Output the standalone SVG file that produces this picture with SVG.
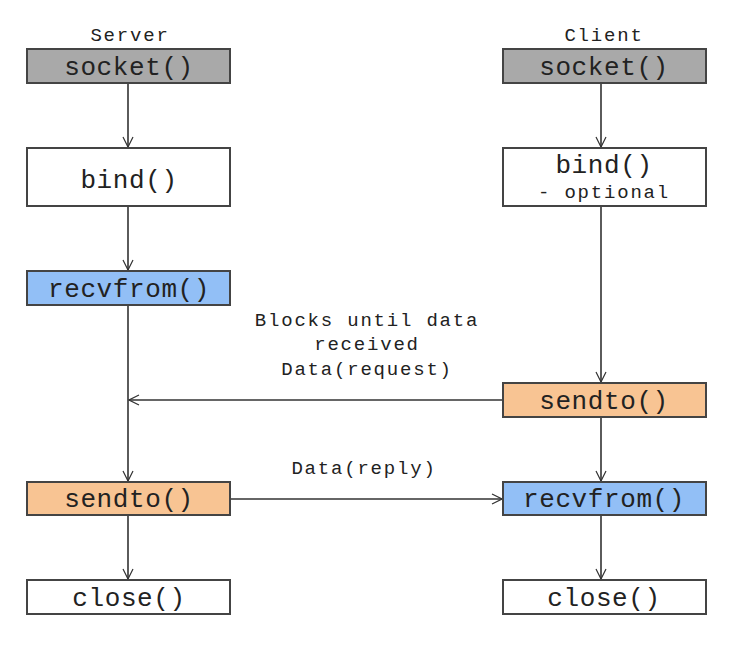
<svg xmlns="http://www.w3.org/2000/svg" width="750" height="657" viewBox="0 0 750 657">
<defs>
<marker id="arr" viewBox="0 0 12 12" refX="11" refY="6" markerWidth="12" markerHeight="12" markerUnits="userSpaceOnUse" orient="auto">
<path d="M1,1 L11,6 L1,11" fill="none" stroke="#333" stroke-width="1.2"/>
</marker>
<style>
.box{stroke:#444;stroke-width:2}
.t{font-family:"Liberation Mono","DejaVu Sans Mono",monospace;font-size:26px;letter-spacing:0.6px;fill:#222;text-anchor:middle}
.l{font-family:"Liberation Mono","DejaVu Sans Mono",monospace;font-size:19px;letter-spacing:1.8px;fill:#222;text-anchor:middle}
.c{stroke:#333;stroke-width:1.6;fill:none;marker-end:url(#arr)}
</style>
</defs>
<rect width="750" height="657" fill="#fff"/>
<text class="l" x="130" y="41">Server</text>
<text class="l" x="604" y="41">Client</text>
<g id="connectors">
<line class="c" x1="128" y1="83" x2="128" y2="147"/>
<line class="c" x1="128" y1="206" x2="128" y2="270"/>
<line class="c" x1="128" y1="305" x2="128" y2="481"/>
<line class="c" x1="128" y1="515" x2="128" y2="579"/>
<line class="c" x1="601" y1="83" x2="601" y2="147"/>
<line class="c" x1="601" y1="206" x2="601" y2="382"/>
<line class="c" x1="601" y1="417" x2="601" y2="481"/>
<line class="c" x1="601" y1="515" x2="601" y2="579"/>
<line class="c" x1="503" y1="400" x2="129" y2="400"/>
<line class="c" x1="230" y1="499" x2="502" y2="499"/>
</g>
<g id="labels">
<text class="l" x="367" y="326">Blocks until data</text>
<text class="l" x="367" y="350">received</text>
<text class="l" x="367" y="375">Data(request)</text>
<text class="l" x="364" y="474">Data(reply)</text>
</g>
<g id="server-socket"><rect class="box" x="27" y="49" width="203" height="34" fill="#a9a9a9"/><text class="t" x="129" y="75">socket()</text></g>
<g id="server-bind"><rect class="box" x="27" y="148" width="203" height="58" fill="#fff"/><text class="t" x="129" y="188">bind()</text></g>
<g id="server-recvfrom"><rect class="box" x="27" y="271" width="203" height="34" fill="#92bff6"/><text class="t" x="129" y="297">recvfrom()</text></g>
<g id="server-sendto"><rect class="box" x="27" y="482" width="203" height="33" fill="#f8c493"/><text class="t" x="129" y="507">sendto()</text></g>
<g id="server-close"><rect class="box" x="27" y="580" width="203" height="34" fill="#fff"/><text class="t" x="129" y="606">close()</text></g>
<g id="client-socket"><rect class="box" x="503" y="49" width="203" height="34" fill="#a9a9a9"/><text class="t" x="604" y="75">socket()</text></g>
<g id="client-bind"><rect class="box" x="503" y="148" width="203" height="58" fill="#fff"/><text class="t" x="604" y="173">bind()</text><text class="l" x="604" y="198">- optional</text></g>
<g id="client-sendto"><rect class="box" x="503" y="383" width="203" height="34" fill="#f8c493"/><text class="t" x="604" y="409">sendto()</text></g>
<g id="client-recvfrom"><rect class="box" x="503" y="482" width="203" height="33" fill="#92bff6"/><text class="t" x="604" y="507">recvfrom()</text></g>
<g id="client-close"><rect class="box" x="503" y="580" width="203" height="34" fill="#fff"/><text class="t" x="604" y="606">close()</text></g>
</svg>
